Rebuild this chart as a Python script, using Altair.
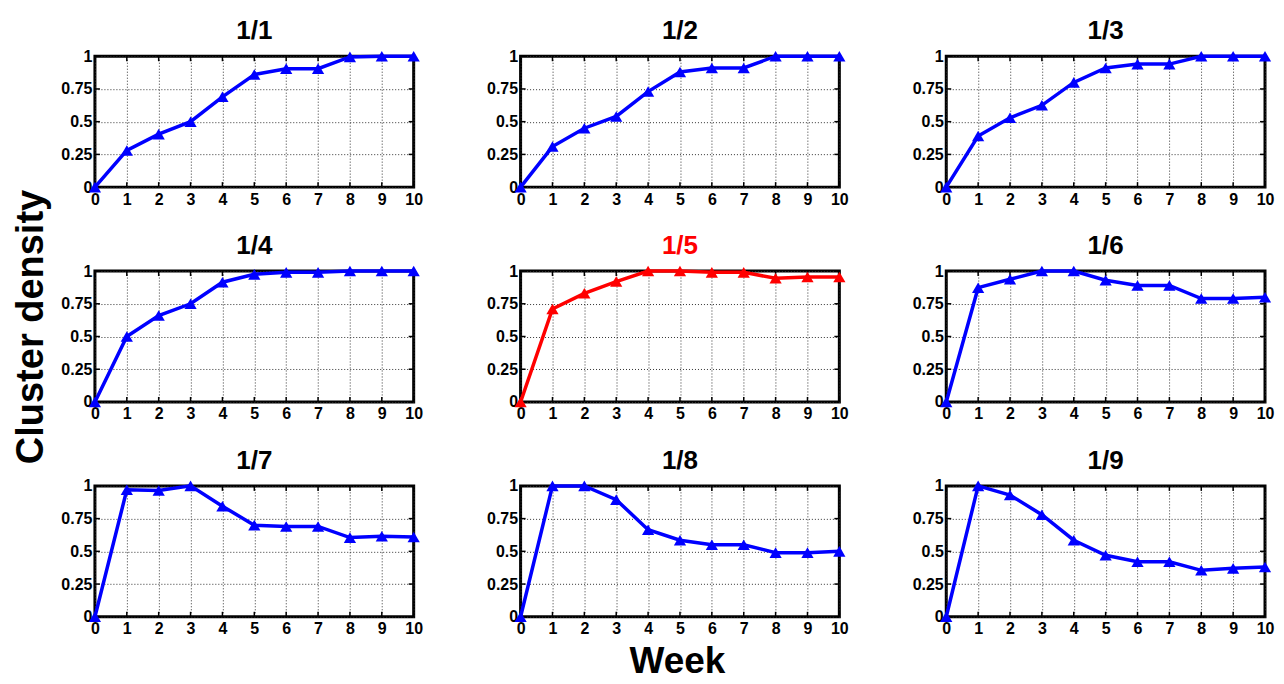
import altair as alt
import pandas as pd

weeks = list(range(11))
y_ticks = [0, 0.25, 0.5, 0.75, 1]

panel_titles = ["1/1", "1/2", "1/3", "1/4", "1/5", "1/6", "1/7", "1/8", "1/9"]
panel_colors = ["#0000ff", "#0000ff", "#0000ff", "#0000ff", "#ff0000",
                "#0000ff", "#0000ff", "#0000ff", "#0000ff"]
title_colors = ["black", "black", "black", "black", "#ff0000",
                "black", "black", "black", "black"]

d_1_1 = [0, 0.28, 0.405, 0.50, 0.69, 0.86, 0.905, 0.905, 0.995, 1.0, 1.0]
d_1_2 = [0, 0.31, 0.45, 0.54, 0.73, 0.88, 0.91, 0.91, 1.0, 1.0, 1.0]
d_1_3 = [0, 0.39, 0.53, 0.625, 0.80, 0.91, 0.94, 0.94, 1.0, 1.0, 1.0]
d_1_4 = [0, 0.50, 0.66, 0.75, 0.915, 0.975, 0.99, 0.99, 1.0, 1.0, 1.0]
d_1_5 = [0, 0.71, 0.83, 0.92, 1.0, 1.0, 0.99, 0.99, 0.945, 0.955, 0.955]
d_1_6 = [0, 0.873, 0.937, 1.0, 1.0, 0.93, 0.89, 0.89, 0.79, 0.79, 0.80]
d_1_7 = [0, 0.97, 0.965, 1.0, 0.845, 0.70, 0.69, 0.69, 0.605, 0.615, 0.61]
d_1_8 = [0, 1.0, 1.0, 0.895, 0.665, 0.585, 0.55, 0.55, 0.49, 0.49, 0.50]
d_1_9 = [0, 1.0, 0.93, 0.78, 0.585, 0.47, 0.42, 0.42, 0.355, 0.37, 0.38]

series = [d_1_1, d_1_2, d_1_3, d_1_4, d_1_5, d_1_6, d_1_7, d_1_8, d_1_9]

W, H = 319, 131
FONT = "Liberation Sans"


def panel(i):
    df = pd.DataFrame({"week": weeks, "density": series[i]})
    color = panel_colors[i]

    xaxis = dict(values=weeks, format="d", grid=True, ticks=False, domain=False,
                 labelPadding=4, labelFlush=False, labelOverlap=False,
                 gridColor="#333333", gridDash=[1, 2], gridWidth=1)
    yaxis = dict(values=y_ticks, labelExpr="'' + datum.value", grid=True, ticks=False,
                 domain=False, labelPadding=3, labelFlush=False, labelOverlap=False,
                 gridColor="#333333", gridDash=[1, 2], gridWidth=1)
    if i == 7:
        xaxis.update(title="Week", titleFontSize=37, titleFontWeight="bold",
                     titleX=W / 2 - 3, titleY=56, titleBaseline="alphabetic",
                     titleAlign="center", titleAngle=0, titleColor="black")
    else:
        xaxis.update(title=None)
    if i == 3:
        yaxis.update(title="Cluster density", titleFontSize=38, titleFontWeight="bold",
                     titleX=-63, titleY=H / 2 - 10, titleBaseline="middle",
                     titleAlign="center", titleAngle=270, titleColor="black")
    else:
        yaxis.update(title=None)

    xenc = alt.X("week:Q", scale=alt.Scale(domain=[0, 10], nice=False),
                 axis=alt.Axis(**xaxis))
    yenc = alt.Y("density:Q", scale=alt.Scale(domain=[0, 1], nice=False),
                 axis=alt.Axis(**yaxis))

    base = alt.Chart(df)
    line = base.mark_line(color=color, strokeWidth=3.5, clip=False).encode(x=xenc, y=yenc)
    pts = base.mark_point(shape="triangle-up", filled=True, size=150, color=color,
                          opacity=1, clip=False).encode(x=xenc, y=yenc)

    xt = alt.Chart(pd.DataFrame({"week": weeks}))
    yt = alt.Chart(pd.DataFrame({"density": y_ticks}))
    tb = xt.mark_rule(color="black", strokeWidth=1.5).encode(
        x=xenc, y=alt.value(H), y2=alt.value(H - 5))
    tt = xt.mark_rule(color="black", strokeWidth=1.5).encode(
        x=xenc, y=alt.value(0), y2=alt.value(5))
    tl = yt.mark_rule(color="black", strokeWidth=1.5).encode(
        y=yenc, x=alt.value(0), x2=alt.value(5))
    tr = yt.mark_rule(color="black", strokeWidth=1.5).encode(
        y=yenc, x=alt.value(W), x2=alt.value(W - 5))

    ttl = alt.Chart(pd.DataFrame({"title": [panel_titles[i]]})).mark_text(
        font=FONT, fontSize=26, fontWeight="bold", color=title_colors[i],
        align="center", baseline="alphabetic",
    ).encode(text="title:N", x=alt.value(W / 2), y=alt.value(-17))

    return alt.layer(tb, tt, tl, tr, line, pts, ttl).properties(width=W, height=H)


charts = [panel(i) for i in range(9)]

chart = alt.concat(
    *charts, columns=3, spacing={"row": 84, "column": 107}, bounds="flush",
    padding={"left": 3, "top": 8, "right": 0, "bottom": 0},
).configure(
    font=FONT,
).configure_view(
    stroke="black", strokeWidth=3, fill="white",
).configure_axis(
    labelFont=FONT, labelFontSize=16, labelFontWeight="bold", labelColor="black",
    titleFont=FONT,
)

chart.save("out.html", embed_options={"renderer": "svg", "actions": False})
